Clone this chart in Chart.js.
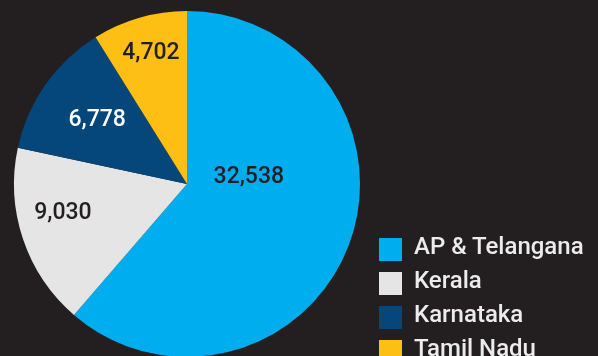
<!DOCTYPE html>
<html>
<head>
<meta charset="utf-8">
<script src="https://cdn.jsdelivr.net/npm/chart.js@4/dist/chart.umd.min.js"></script>
<style>
  html, body { margin: 0; padding: 0; background: #231f20; width: 598px; height: 356px; overflow: hidden; }
  #wrap { position: relative; width: 598px; height: 356px; overflow: hidden; }
  #c { position: absolute; left: 0; top: 0; }
  #legend { position: absolute; left: 379px; top: 232px; font-family: Roboto, sans-serif; font-weight: 500; font-size: 24px; color: #ececec; }
  .row { display: flex; align-items: center; height: 34px; margin: 0; }
  .row .sw { width: 23px; height: 23px; margin-right: 12px; flex: none; }
  .row span { line-height: 23px; white-space: nowrap; position: relative; top: -3px; }
</style>
</head>
<body>
<div id="wrap">
  <canvas id="c" width="598" height="372"></canvas>
  <div id="legend"></div>
</div>
<script>
// Sales by state
const states = ["AP & Telangana", "Kerala", "Karnataka", "Tamil Nadu"];
const sales = [32538, 9030, 6778, 4702];
const sliceColors = ["#00aeef", "#e5e5e5", "#05477a", "#fdbf13"];
const labelColors = ["#231f20", "#231f20", "#ffffff", "#231f20"];
// [fraction along slice angle, fraction of radius] for each value label
const labelSpots = [[0.376, 0.36], [0.595, 0.735], [0.515, 0.64], [0.52, 0.79]];

const valueLabels = {
  id: 'valueLabels',
  afterDatasetsDraw(chart) {
    const ctx = chart.ctx;
    const meta = chart.getDatasetMeta(0);
    ctx.save();
    ctx.font = '500 23px Roboto, sans-serif';
    ctx.textAlign = 'center';
    ctx.textBaseline = 'middle';
    meta.data.forEach((arc, i) => {
      const p = arc.getProps(['x', 'y', 'startAngle', 'endAngle', 'outerRadius'], true);
      const [fa, fr] = labelSpots[i];
      const a = p.startAngle + (p.endAngle - p.startAngle) * fa;
      const r = p.outerRadius * fr;
      ctx.fillStyle = labelColors[i];
      ctx.fillText(sales[i].toLocaleString('en-US'), p.x + Math.cos(a) * r, p.y + Math.sin(a) * r + 1);
    });
    ctx.restore();
  }
};

new Chart(document.getElementById('c'), {
  type: 'pie',
  data: {
    labels: states,
    datasets: [{
      data: sales,
      backgroundColor: sliceColors,
      borderWidth: 0,
      hoverOffset: 0
    }]
  },
  options: {
    responsive: false,
    animation: false,
    devicePixelRatio: 1,
    layout: { padding: { left: 14, top: 11, right: 238, bottom: 15 } },
    plugins: {
      legend: { display: false },
      tooltip: { enabled: false }
    }
  },
  plugins: [valueLabels]
});

// Legend
const legend = document.getElementById('legend');
states.forEach((s, i) => {
  const row = document.createElement('div');
  row.className = 'row';
  const sw = document.createElement('div');
  sw.className = 'sw';
  sw.style.background = sliceColors[i];
  const t = document.createElement('span');
  t.textContent = s;
  row.appendChild(sw);
  row.appendChild(t);
  legend.appendChild(row);
});
</script>
</body>
</html>
